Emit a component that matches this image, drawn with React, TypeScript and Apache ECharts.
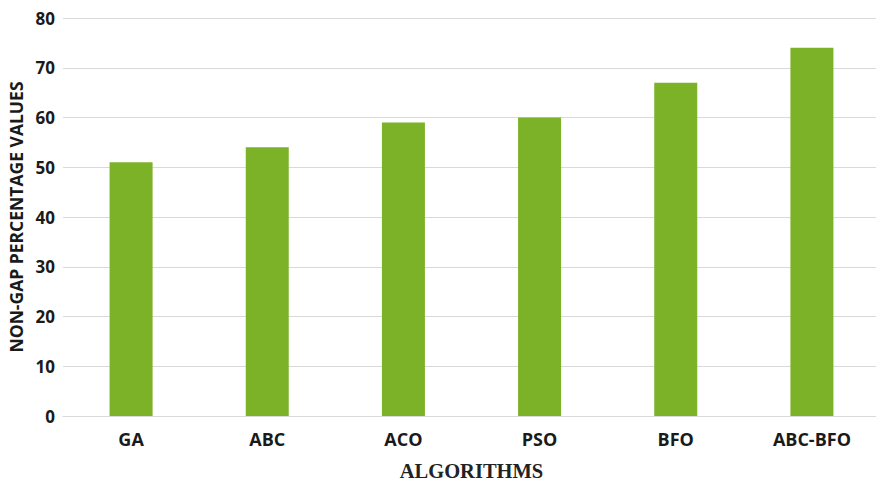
import React, { useEffect, useRef } from "react";
import * as echarts from "echarts";

const categories = ["GA", "ABC", "ACO", "PSO", "BFO", "ABC-BFO"];
const values = [51, 54, 59, 60, 67, 74];
const yTicks = { min: 0, max: 80, interval: 10 };

export default function App() {
  const ref = useRef<HTMLDivElement>(null);

  useEffect(() => {
    if (!ref.current) return;
    const chart = echarts.init(ref.current, null, { renderer: "svg" });
    chart.setOption({
      animation: false,
      grid: { left: 63, right: 0, top: 18, bottom: 64, outerBoundsMode: "none", containLabel: false },
      xAxis: {
        type: "category",
        data: categories,
        name: "ALGORITHMS",
        nameLocation: "middle",
        nameGap: 44,
        nameTextStyle: {
          fontFamily: "Liberation Serif",
          fontWeight: "bold",
          fontSize: 20.5,
          color: "#222",
        },
        axisLine: { show: true, lineStyle: { color: "#d9d9d9", width: 1 } },
        axisTick: { show: false },
        axisLabel: {
          fontFamily: "Open Sans",
          fontWeight: "bold",
          fontSize: 18,
          color: "#1a1a1a",
          margin: 14,
        },
      },
      yAxis: {
        type: "value",
        min: yTicks.min,
        max: yTicks.max,
        interval: yTicks.interval,
        name: "NON-GAP PERCENTAGE VALUES",
        nameLocation: "middle",
        nameGap: 36,
        nameTextStyle: {
          fontFamily: "Open Sans",
          fontWeight: "bold",
          fontSize: 17.5,
          color: "#1a1a1a",
        },
        axisLine: { show: false },
        axisTick: { show: false },
        splitLine: { lineStyle: { color: "#d9d9d9", width: 1 } },
        axisLabel: {
          fontFamily: "Open Sans",
          fontWeight: "bold",
          fontSize: 17,
          color: "#1a1a1a",
          margin: 8,
        },
      },
      series: [
        {
          type: "bar",
          data: values,
          barWidth: 43,
          itemStyle: { color: "#7cb227" },
        },
      ],
    });
    return () => chart.dispose();
  }, []);

  return (
    <div
      style={{
        position: "fixed",
        left: 0,
        top: 0,
        width: 876,
        height: 480,
        overflow: "hidden",
        background: "#fff",
      }}
    >
      <div ref={ref} style={{ width: 880, height: 480 }} />
    </div>
  );
}
